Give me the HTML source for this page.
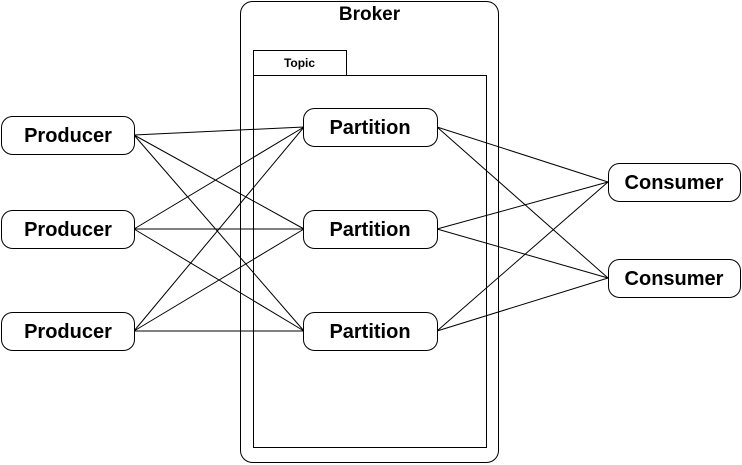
<!DOCTYPE html>
<html><head><style>
html,body{margin:0;padding:0;background:#fff;}
svg{display:block;}
text{font-family:"Liberation Sans",Arial,sans-serif;font-weight:bold;fill:#000;}
</style></head><body>
<svg width="742" height="465" viewBox="0 0 742 465" xmlns="http://www.w3.org/2000/svg">
<rect x="240.5" y="1.5" width="258" height="461" rx="12" fill="#fff" stroke="#000"/>
<text x="369.5" y="20" font-size="19" text-anchor="middle">Broker</text>
<rect x="253.5" y="50.5" width="93" height="25" fill="#fff" stroke="#000"/>
<text x="299.5" y="67" font-size="12" text-anchor="middle">Topic</text>
<rect x="253.5" y="75.5" width="233" height="372" fill="none" stroke="#000"/>
<g stroke="#000" stroke-width="1" fill="none">
<line x1="134" y1="135" x2="304" y2="127"/><line x1="134" y1="135" x2="304" y2="229"/><line x1="134" y1="135" x2="304" y2="331"/>
<line x1="134" y1="229" x2="304" y2="127"/><line x1="134" y1="229" x2="304" y2="229"/><line x1="134" y1="229" x2="304" y2="331"/>
<line x1="134" y1="331" x2="304" y2="127"/><line x1="134" y1="331" x2="304" y2="229"/><line x1="134" y1="331" x2="304" y2="331"/>
<line x1="437" y1="127" x2="608" y2="182"/><line x1="437" y1="127" x2="608" y2="278"/>
<line x1="437" y1="229" x2="608" y2="182"/><line x1="437" y1="229" x2="608" y2="278"/>
<line x1="437" y1="331" x2="608" y2="182"/><line x1="437" y1="331" x2="608" y2="278"/>
</g>
<g fill="#fff" stroke="#000">
<rect x="1.5" y="116.5" width="133" height="38" rx="11"/>
<rect x="1.5" y="210.5" width="133" height="38" rx="11"/>
<rect x="1.5" y="312.5" width="133" height="38" rx="11"/>
<rect x="303.5" y="108.5" width="134" height="38" rx="11"/>
<rect x="303.5" y="210.5" width="134" height="38" rx="11"/>
<rect x="303.5" y="312.5" width="134" height="38" rx="11"/>
<rect x="608.5" y="163.5" width="132" height="38" rx="11"/>
<rect x="608.5" y="259.5" width="132" height="38" rx="11"/>
</g>
<g font-size="20" text-anchor="middle">
<text x="68" y="142">Producer</text>
<text x="68" y="236">Producer</text>
<text x="68" y="338">Producer</text>
<text x="370" y="134">Partition</text>
<text x="370" y="236">Partition</text>
<text x="370" y="338">Partition</text>
<text x="674" y="189">Consumer</text>
<text x="674" y="285">Consumer</text>
</g>
</svg>
</body></html>
